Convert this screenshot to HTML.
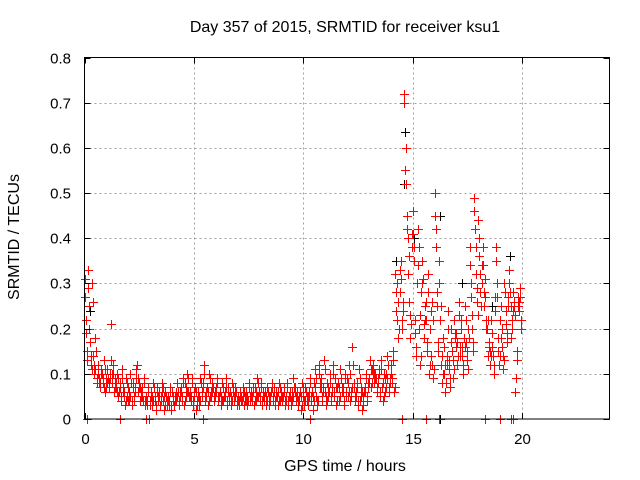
<!DOCTYPE html>
<html><head><meta charset="utf-8"><style>
html,body{margin:0;padding:0;background:#fff;}
svg{display:block;font-family:"Liberation Sans",sans-serif;}
</style></head><body>
<svg id="chart" width="640" height="480" viewBox="0 0 640 480">
<text x="345" y="32" font-size="16" text-anchor="middle">Day 357 of 2015, SRMTID for receiver ksu1</text>
<text x="345" y="471" font-size="16" text-anchor="middle">GPS time / hours</text>
<text transform="translate(19,237) rotate(-90)" font-size="16" text-anchor="middle">SRMTID / TECUs</text>
<g id="grid"></g>
<g id="marks" shape-rendering="crispEdges"></g>
<rect x="84.5" y="57.5" width="525" height="361.5" fill="none" stroke="#000" stroke-width="1"/>
<g id="axes"></g>
</svg>
<script>
const xTicks = [0, 5, 10, 15, 20];
const yTicks = [0, 0.1, 0.2, 0.3, 0.4, 0.5, 0.6, 0.7, 0.8];
const yTickLabels = ["0", "0.1", "0.2", "0.3", "0.4", "0.5", "0.6", "0.7", "0.8"];
const sampleHours = [0.0,0.2,0.4,0.6,0.8,1.0,1.2,1.4,1.6,1.8,2.0,2.2,2.4,2.6,2.8,3.0,3.2,3.4,3.6,3.8,4.0,4.2,4.4,4.6,4.8,5.0,5.2,5.4,5.6,5.8,6.0,6.2,6.4,6.6,6.8,7.0,7.2,7.4,7.6,7.8,8.0,8.2,8.4,8.6,8.8,9.0,9.2,9.4,9.6,9.8,10.0,10.2,10.4,10.6,10.8,11.0,11.2,11.4,11.6,11.8,12.0,12.2,12.4,12.6,12.8,13.0,13.2,13.4,13.6,13.8,14.0,14.2,14.4,14.6,14.8,15.0,15.2,15.4,15.6,15.8,16.0,16.2,16.4,16.6,16.8,17.0,17.2,17.4,17.6,17.8,18.0,18.2,18.4,18.6,18.8,19.0,19.2,19.4,19.6,19.8];
const tecA = [.31,.25,.14,.12,.10,.09,.21,.09,.08,.06,.07,.08,.12,.06,.05,.04,.05,.06,.04,.05,.06,.04,.07,.08,.06,.05,.06,.08,.07,.05,.07,.06,.05,.04,.06,.05,.04,.06,.05,.07,.05,.04,.06,.04,.05,.06,.04,.05,.07,.04,.05,.03,.06,.05,.09,.06,.10,.05,.08,.07,.09,.06,.05,.04,.06,.09,.12,.08,.07,.10,.12,.32,.28,.72,.32,.46,.30,.28,.22,.20,.50,.35,.18,.24,.15,.19,.22,.25,.38,.49,.44,.38,.20,.22,.38,.22,.30,.33,.28,.27];
const tecB = [.22,.17,.10,.09,.08,.11,.08,.07,.04,.03,.04,.05,.06,.05,.03,.06,.02,.03,.02,.03,.04,.08,.05,.05,.04,.07,.03,.12,.03,.08,.09,.03,.09,.06,.04,.03,.07,.03,.04,.04,.08,.06,.03,.07,.03,.04,.08,.03,.04,.06,.03,.06,.02,.03,.04,.03,.04,.09,.04,.03,.05,.16,.08,.07,.10,.13,.08,.11,.04,.14,.08,.24,.35,.55,.26,.38,.42,.35,.15,.14,.42,.22,.10,.13,.09,.12,.14,.17,.30,.42,.36,.25,.14,.16,.30,.18,.24,.28,.25,.24];
const tecC = [.15,.12,.18,.07,.13,.07,.12,.10,.11,.09,.10,.06,.08,.09,.07,.03,.07,.05,.06,.07,.03,.03,.09,.10,.09,.02,.09,.04,.10,.04,.04,.08,.03,.03,.07,.06,.03,.08,.07,.09,.03,.03,.05,.03,.08,.07,.03,.06,.05,.02,.07,.09,.08,.12,.06,.08,.07,.03,.11,.10,.12,.08,.03,.02,.04,.07,.10,.05,.10,.06,.15,.30,.20,.60,.18,.22,.20,.18,.32,.26,.28,.12,.06,.07,.22,.26,.10,.13,.23,.32,.28,.31,.17,.10,.15,.16,.19,.18,.06,.29];
const tecD = [.33,.30,.08,.11,.06,.10,.06,.05,.06,.05,.03,.11,.04,.03,.00,.08,.04,.08,.03,.02,.05,.06,.03,.06,.03,.04,.05,.06,.05,.06,.05,.04,.07,.08,.03,.04,.05,.04,.03,.05,.06,.07,.08,.05,.04,.03,.05,.09,.03,.08,.04,.04,.11,.07,.13,.05,.12,.07,.06,.05,.04,.04,.11,.05,.08,.11,.06,.13,.06,.09,.06,.18,.26,.45,.41,.14,.12,.25,.10,.09,.17,.08,.14,.20,.18,.16,.18,.20,.15,.26,.34,.22,.12,.27,.12,.11,.27,.22,.13,.22];
const tecE = [.27,.20,.12,.10,.09,.08,.13,.08,.07,.05,.06,.07,.09,.07,.04,.05,.04,.05,.05,.04,.05,.05,.06,.07,.05,.06,.05,.07,.06,.06,.06,.05,.06,.05,.05,.04,.05,.05,.06,.06,.04,.05,.05,.05,.06,.05,.05,.04,.06,.05,.04,.05,.05,.04,.07,.05,.08,.06,.07,.06,.08,.07,.06,.05,.07,.08,.10,.09,.08,.09,.10,.28,.33,.70,.36,.41,.34,.30,.26,.24,.45,.30,.16,.20,.13,.17,.20,.22,.34,.46,.40,.34,.22,.19,.35,.25,.28,.30,.26,.25];
const tecF = [.19,.14,.11,.08,.07,.09,.10,.06,.05,.04,.05,.04,.07,.04,.04,.05,.03,.04,.03,.04,.03,.06,.04,.06,.05,.06,.04,.10,.04,.07,.08,.04,.07,.05,.05,.04,.06,.04,.05,.05,.07,.05,.04,.06,.04,.05,.07,.04,.05,.05,.04,.05,.04,.04,.05,.04,.05,.07,.05,.04,.06,.12,.07,.06,.09,.11,.09,.10,.05,.12,.09,.22,.31,.52,.23,.35,.38,.31,.17,.12,.38,.25,.12,.11,.11,.14,.16,.15,.27,.38,.32,.28,.16,.14,.27,.20,.21,.25,.23,.26];
const tecG = [.13,.11,.15,.08,.11,.08,.10,.09,.09,.08,.08,.07,.07,.08,.06,.04,.06,.06,.05,.06,.04,.04,.08,.09,.08,.03,.08,.05,.09,.05,.05,.07,.04,.04,.06,.05,.04,.07,.06,.08,.04,.04,.06,.04,.07,.06,.04,.05,.06,.03,.06,.08,.07,.10,.07,.07,.06,.04,.09,.09,.10,.07,.04,.03,.05,.08,.09,.06,.09,.07,.13,.26,.22,.42,.21,.19,.23,.21,.28,.22,.25,.14,.08,.09,.19,.23,.12,.11,.20,.29,.25,.27,.15,.12,.18,.14,.17,.20,.09,.27];
const tecH = [.29,.26,.09,.10,.07,.09,.07,.06,.07,.04,.04,.09,.05,.04,.03,.07,.05,.07,.04,.03,.06,.05,.04,.05,.04,.05,.06,.05,.06,.05,.06,.05,.06,.07,.04,.05,.04,.05,.04,.06,.05,.06,.07,.06,.05,.04,.06,.07,.04,.07,.05,.05,.09,.08,.11,.06,.10,.08,.07,.06,.05,.05,.09,.06,.07,.10,.07,.11,.07,.08,.07,.20,.24,.40,.38,.16,.14,.22,.12,.11,.15,.10,.12,.17,.16,.14,.16,.18,.17,.23,.30,.20,.14,.24,.14,.13,.25,.24,.15,.20];
const zeroHours = [0.1, 1.6, 2.8, 5.4, 10.3, 14.5, 15.6, 16.2, 18.3, 19.0, 19.5, 19.6];
const blackHours = [14.6, 14.2, 15.0, 18.6, 19.4, 0.2, 16.2, 16.2, 2.9, 14.55, 17.2];
const blackValues = [0.635, 0.35, 0.40, 0.25, 0.36, 0.24, 0.45, 0.0, 0.0, 0.52, 0.30];

const X0 = 84.5, X1 = 609.5, Y0 = 419, Y1 = 57.5;
function xScale(h){ return X0 + h / 24 * (X1 - X0); }
function yScale(v){ return Y0 - v / 0.8 * (Y0 - Y1); }
const NS = "http://www.w3.org/2000/svg";
const grid = document.getElementById('grid');
const axes = document.getElementById('axes');
const marks = document.getElementById('marks');
function mk(tag, attrs, parent){
  const e = document.createElementNS(NS, tag);
  for (const k in attrs) e.setAttribute(k, attrs[k]);
  parent.appendChild(e); return e;
}
xTicks.forEach(function(t){
  const x = Math.round(xScale(t)) + 0.5;
  if (t > 0) {
    const g = mk('line', {x1:x, x2:x, y1:Y1, y2:Y0, stroke:'#a0a0a0', 'stroke-dasharray':'2,3'}, grid);
    
    
  }
  const tk = mk('path', {d:'M'+x+' '+Y0+'v-6M'+x+' '+Y1+'v6', stroke:'#000'}, axes);
  
  
  const lb = mk('text', {x:x, y:444, 'font-size':15, 'text-anchor':'middle', fill:'#000'}, axes);
  lb.textContent = String(t);
  
  
});
yTicks.forEach(function(t, i){
  const y = Math.round(yScale(t)) + 0.5;
  if (i > 0 && i < yTicks.length - 1) {
    const g = mk('line', {x1:X0, x2:X1, y1:y, y2:y, stroke:'#a0a0a0', 'stroke-dasharray':'2,3'}, grid);
    
    
  }
  const tk = mk('path', {d:'M'+X0+' '+y+'h6M'+X1+' '+y+'h-6', stroke:'#000'}, axes);
  
  
  const lb = mk('text', {x:71, y:y+5, 'font-size':15, 'text-anchor':'end', fill:'#000'}, axes);
  lb.textContent = yTickLabels[i];
  
  
});
function plus(h, v, color, name){
  const x = Math.round(xScale(h)), y = Math.round(yScale(v));
  const g = mk('g', {fill:color}, marks);
  
  
  mk('rect', {x:x-4, y:y, width:9, height:1}, g);
  mk('rect', {x:x, y:y-4, width:1, height:9}, g);
}
blackHours.forEach(function(h, i){ plus(h + 0.05, blackValues[i], '#000', 'black-point'); });
const offs = [0, 0.05, 0.1, 0.15, 0.025, 0.075, 0.125, 0.175];
[tecA, tecB, tecC, tecD, tecE, tecF, tecG, tecH].forEach(function(series, s){
  series.forEach(function(v, i){ plus(sampleHours[i] + offs[s], v, '#ff0000', 'red-point'); });
});
zeroHours.forEach(function(h){ plus(h, 0, '#ff0000', 'red-zero-point'); });
</script>
</body></html>
